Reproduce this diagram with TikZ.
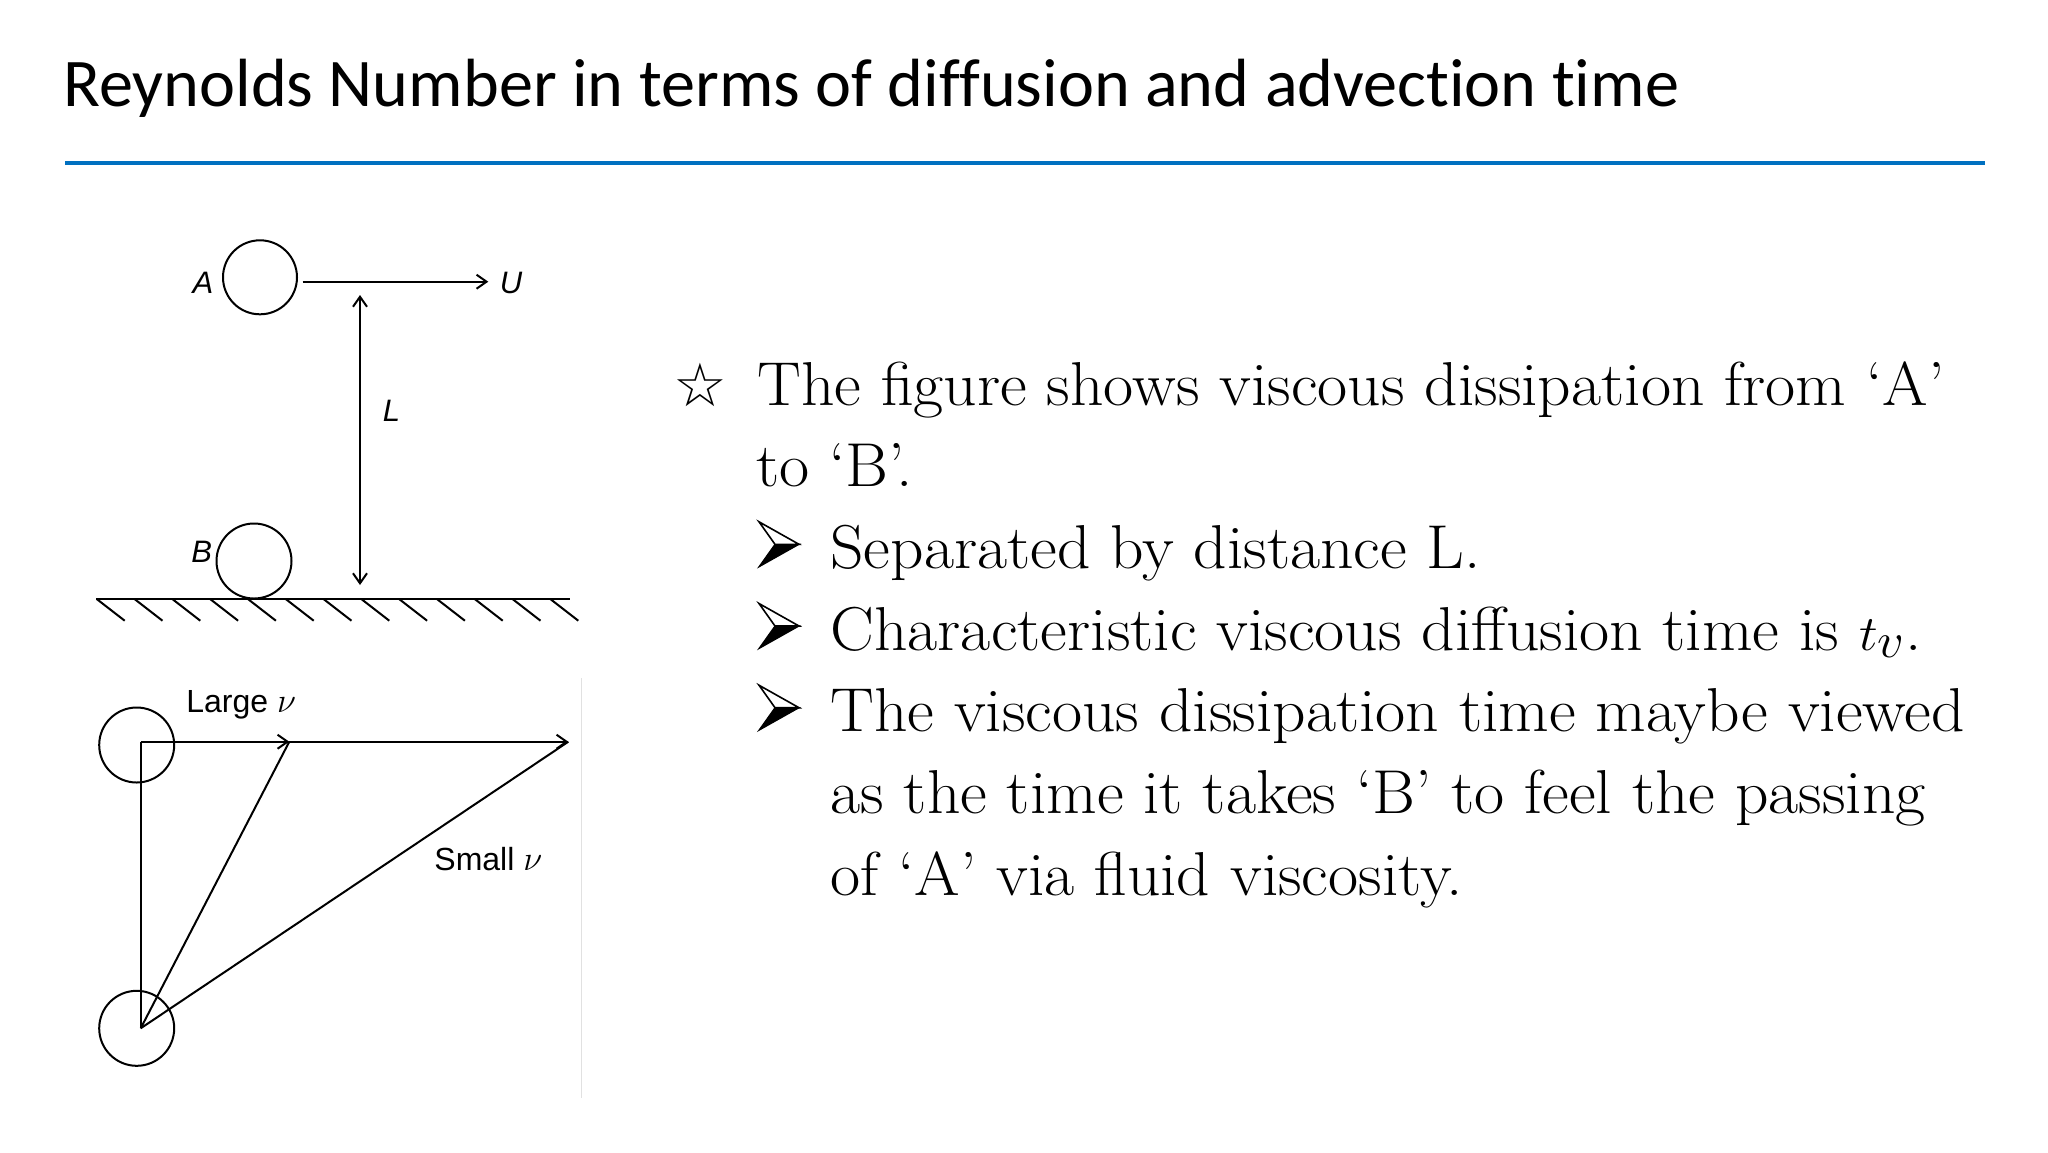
\documentclass[tikz,border=0pt]{standalone}
\usepackage{fontspec}
\newfontfamily\titlefont[Ligatures=NoCommon]{Carlito}
\newfontfamily\labfont{Liberation Sans}
\newfontfamily\symfont{DejaVu Sans}
\usetikzlibrary{arrows.meta}
\definecolor{slideblue}{RGB}{0,112,192}
\definecolor{sepgray}{RGB}{225,225,225}
\begin{document}
\begin{tikzpicture}[x=0.5pt,y=-0.5pt,
  fig/.style={line width=1pt},
  tipend/.style={-{Straight Barb[length=5pt,width=7pt]}},
  tipboth/.style={{Straight Barb[length=5pt,width=7pt]}-{Straight Barb[length=5pt,width=7pt]}},
  ball/.style={circle,draw,line width=1pt,minimum size=37pt,inner sep=0pt},
  lab/.style={anchor=base,inner sep=0pt,font=\labfont\itshape\fontsize{15.5}{18}\selectfont},
  lab2/.style={anchor=base west,inner sep=0pt,font=\labfont\fontsize{16}{18}\selectfont},
  body/.style={anchor=base west,inner sep=0pt,xscale=1.057,font=\fontsize{31}{37}\selectfont},
  bul/.style={inner sep=0pt,font=\symfont\fontsize{30}{32}\selectfont}]
\useasboundingbox (0,0) rectangle (2048,1152);
\fill[white] (0,0) rectangle (2048,1152);
% title
\node[anchor=base west,inner sep=0pt,font=\titlefont\fontsize{34.1}{40}\selectfont] (title) at (63,106.7) {Reynolds Number in terms of diffusion and advection time};
\coordinate (rule1) at (65,163);
\coordinate (rule2) at (1985,163);
\draw[slideblue,line width=2.2pt] (rule1) -- (rule2);
% top figure
\node[ball] (A) at (260,277.3) {};
\node[ball,minimum size=37.5pt] (B) at (254,561) {};
\node[lab] (Alab) at (203,293) {A};
\node[lab] (Blab) at (201.7,562) {B};
\node[lab] (Ulab) at (511,293.3) {U};
\node[lab] (Llab) at (391.5,421.7) {L};
\coordinate (Us) at (302.7,281.7);
\coordinate (Ue) at (488.3,281.7);
\draw[fig,tipend] (Us) -- (Ue);
\coordinate (Lt) at (360,295);
\coordinate (Lb) at (360,585);
\draw[fig,tipboth] (Lt) -- (Lb);
\coordinate (g1) at (96,599);
\coordinate (g2) at (570,599);
\draw[fig] (g1) -- (g2);
\foreach \i in {0,...,12}{
  \draw[fig] ({96.7+37.8*\i},599) -- ++(28,21.7);
}
% bottom figure
\node[ball,minimum size=37.5pt] (C1) at (136.7,745) {};
\node[ball,minimum size=37.5pt] (C2) at (136.7,1028.3) {};
\coordinate (corner) at (140.7,741.7);
\coordinate (bot) at (140.7,1028.3);
\coordinate (mid) at (289.3,741.7);
\coordinate (far) at (568.3,741.7);
\draw[fig] (corner) -- (bot);
\draw[fig,tipend] (corner) -- (mid);
\draw[fig,tipend] (mid) -- (far);
\draw[fig] (bot) -- (mid);
\draw[fig] (bot) -- (far);
\node[lab2] (large) at (186,712.7) {Large {\fontsize{17}{18}\selectfont$\nu$}};
\node[lab2] (small) at (434,870) {Small {\fontsize{17}{18}\selectfont$\nu$}};
\coordinate (s1) at (581.7,678);
\coordinate (s2) at (581.7,1098);
\draw[sepgray,line width=0.6pt] (s1) -- (s2);
% right text
\node[bul] (star) at (700,385) {☆};
\node[body] (l1) at (757,405) {The figure shows viscous dissipation from ‘A’};
\node[body] (l2) at (756,486.7) {to ‘B’.};
\foreach \by in {544.3,626,707.7}{
  \filldraw[line width=0.6pt] (799,\by) -- (759,\by+22.5) -- (775,\by) -- cycle;
  \draw[line width=0.8pt,fill=white] (799,\by) -- (759,\by-22.5) -- (775,\by) -- cycle;
}
\node[body] (l3) at (830,568.3) {Separated by distance L.};
\node[body] (l4) at (830,650) {Characteristic viscous diffusion time is {\fontsize{35}{37}\selectfont$t_{v}$}.};
\node[body] (l5) at (830,731.7) {The viscous dissipation time maybe viewed};
\node[body] (l6) at (830,813.3) {as the time it takes ‘B’ to feel the passing};
\node[body] (l7) at (830,895) {of ‘A’ via fluid viscosity.};
\end{tikzpicture}
\end{document}
